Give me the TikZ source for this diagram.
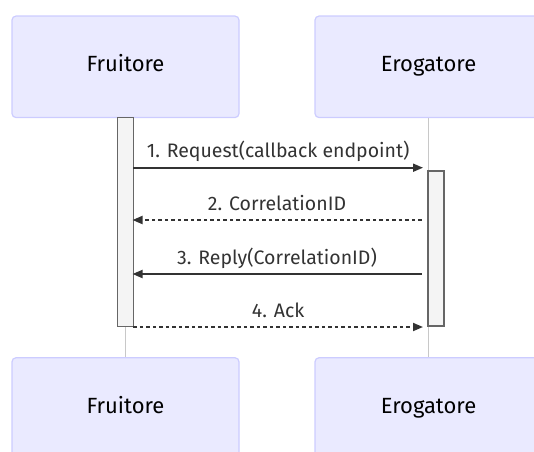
\documentclass[tikz,border=0pt]{standalone}
\usepackage{fontspec}
\setmainfont{Fira Sans}
\usepackage{tikz}
\usetikzlibrary{arrows.meta, positioning}
\definecolor{actorfill}{RGB}{234,234,255}
\definecolor{actorline}{RGB}{204,204,255}
\definecolor{lifeline}{RGB}{200,200,200}
\definecolor{actfill}{RGB}{244,244,244}
\definecolor{actline}{RGB}{102,102,102}
\definecolor{msgcolor}{RGB}{51,51,51}

\begin{document}
\begin{tikzpicture}[
    x=1pt, y=-1pt,
    actor/.style={draw=actorline, fill=actorfill, line width=1.2pt, rounded corners=4pt, minimum width=227pt, minimum height=101.5pt, inner sep=0pt, text height=0.95em, text depth=0pt, font=\fontsize{22}{26}\selectfont},
    activation/.style={draw=actline, fill=actfill, line width=1.5pt, minimum width=16pt, inner sep=0pt},
    life/.style={draw=lifeline, line width=1pt},
    msg/.style={-{Triangle[length=10pt, width=8pt]}, draw=msgcolor, line width=1.8pt},
    reply/.style={msg, dash pattern=on 3.5pt off 3pt},
    lbl/.style={text=msgcolor, font=\fontsize{19.5}{23}\selectfont, inner sep=0pt, anchor=base, yshift=10pt}
]
    \useasboundingbox (0,0) rectangle (534,451);

    % Actors
    \node[actor] (fruitore) at (125.5,66.8) {Fruitore};
    \node[actor] (erogatore) at (428.5,66.8) {Erogatore};
    \node[actor] (fruitoreB) at (125.5,408.5) {Fruitore};
    \node[actor] (erogatoreB) at (428.5,408.5) {Erogatore};

    % Lifelines
    \draw[life] (fruitore.south) -- (fruitoreB.north);
    \draw[life] (erogatore.south) -- (erogatoreB.north);

    % Activations
    \node[activation, minimum height=209pt] (actF) at (125.3,222) {};
    \node[activation, minimum height=155pt] (actE) at (436,248.5) {};

    % Message ends
    \coordinate (f1) at (133.3,167.7);  \coordinate (e1) at (423,167.7);
    \coordinate (e2) at (421.5,220);    \coordinate (f2) at (132.5,220);
    \coordinate (e3) at (421.5,274);    \coordinate (f3) at (132.5,274);
    \coordinate (f4) at (133.3,327);    \coordinate (e4) at (423,327);

    % Messages
    \draw[msg] (f1) -- node[lbl] {1. Request(callback endpoint)} (e1);
    \draw[reply] (e2) -- node[lbl] {2. CorrelationID} (f2);
    \draw[msg] (e3) -- node[lbl] {3. Reply(CorrelationID)} (f3);
    \draw[reply] (f4) -- node[lbl] {4. Ack} (e4);
\end{tikzpicture}
\end{document}
